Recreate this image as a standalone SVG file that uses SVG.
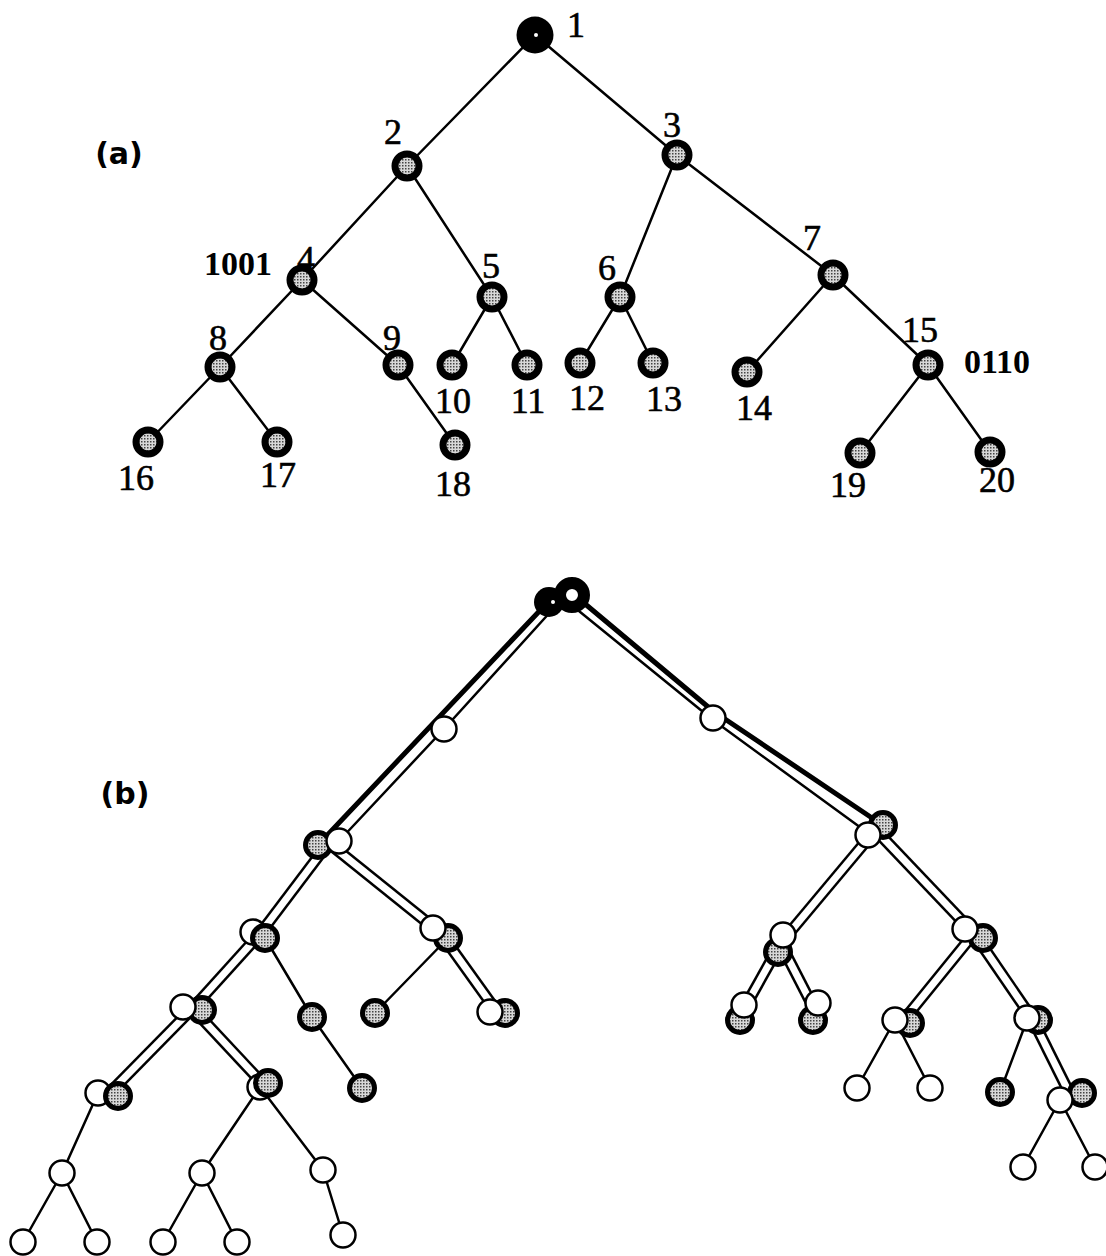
<svg xmlns="http://www.w3.org/2000/svg" width="1106" height="1256" viewBox="0 0 1106 1256">
<defs>
<pattern id="sp" width="3" height="3" patternUnits="userSpaceOnUse">
<rect width="3" height="3" fill="#d8d8d8"/>
<rect width="1.5" height="1.5" fill="#444"/>
</pattern>
<style>
.e{stroke:#000;stroke-width:2.5;fill:none;stroke-linecap:round;stroke-linejoin:round}
.thick{stroke:#000;stroke-width:5;fill:none;stroke-linecap:round;stroke-linejoin:round}
.dO{stroke:#000;stroke-width:12}
.dI{stroke:#fff;stroke-width:7}
.na{fill:url(#sp);stroke:#000;stroke-width:7}
.sb{fill:url(#sp);stroke:#000;stroke-width:5}
.wb{fill:#fff;stroke:#000;stroke-width:2.5}
.lbl{font-family:"Liberation Serif",serif;font-size:36px;text-anchor:middle;fill:#000;stroke:#000;stroke-width:0.6}
.bin{font-family:"Liberation Serif",serif;font-size:34px;font-weight:bold;text-anchor:middle;fill:#000}
.tag{font-family:"DejaVu Sans",sans-serif;font-size:30px;font-weight:bold;text-anchor:middle;fill:#000}
</style>
</defs>
<rect width="1106" height="1256" fill="#fff"/>

<!-- (a) connectors -->
<g id="connectors-a">
<line class="e" x1="535" y1="35" x2="407" y2="166"/>
<line class="e" x1="535" y1="35" x2="677" y2="155"/>
<line class="e" x1="407" y1="166" x2="302" y2="280"/>
<line class="e" x1="407" y1="166" x2="492" y2="297"/>
<line class="e" x1="677" y1="155" x2="620" y2="297"/>
<line class="e" x1="677" y1="155" x2="833" y2="275"/>
<line class="e" x1="302" y1="280" x2="220" y2="367"/>
<line class="e" x1="302" y1="280" x2="398" y2="365"/>
<line class="e" x1="492" y1="297" x2="452" y2="365"/>
<line class="e" x1="492" y1="297" x2="527" y2="365"/>
<line class="e" x1="620" y1="297" x2="580" y2="363"/>
<line class="e" x1="620" y1="297" x2="653" y2="363"/>
<line class="e" x1="833" y1="275" x2="747" y2="372"/>
<line class="e" x1="833" y1="275" x2="928" y2="365"/>
<line class="e" x1="220" y1="367" x2="148" y2="442"/>
<line class="e" x1="220" y1="367" x2="277" y2="442"/>
<line class="e" x1="398" y1="365" x2="455" y2="445"/>
<line class="e" x1="928" y1="365" x2="860" y2="453"/>
<line class="e" x1="928" y1="365" x2="990" y2="452"/>
</g>

<!-- (a) nodes -->
<g id="a-n1"><circle cx="535" cy="35" r="18.5" fill="#000"/><circle cx="536" cy="35" r="2" fill="#fff"/><text class="lbl" x="576" y="37">1</text></g>
<g id="a-n2"><circle class="na" cx="407" cy="166" r="12"/><text class="lbl" x="393" y="144">2</text></g>
<g id="a-n3"><circle class="na" cx="677" cy="155" r="12"/><text class="lbl" x="672" y="137">3</text></g>
<g id="a-n4"><circle class="na" cx="302" cy="280" r="12"/><text class="lbl" x="306" y="271">4</text><text class="bin" x="238" y="275">1001</text></g>
<g id="a-n5"><circle class="na" cx="492" cy="297" r="12"/><text class="lbl" x="491" y="278">5</text></g>
<g id="a-n6"><circle class="na" cx="620" cy="297" r="12"/><text class="lbl" x="607" y="280">6</text></g>
<g id="a-n7"><circle class="na" cx="833" cy="275" r="12"/><text class="lbl" x="812" y="250">7</text></g>
<g id="a-n8"><circle class="na" cx="220" cy="367" r="12"/><text class="lbl" x="218" y="350">8</text></g>
<g id="a-n9"><circle class="na" cx="398" cy="365" r="12"/><text class="lbl" x="392" y="350">9</text></g>
<g id="a-n10"><circle class="na" cx="452" cy="365" r="12"/><text class="lbl" x="453" y="413">10</text></g>
<g id="a-n11"><circle class="na" cx="527" cy="365" r="12"/><text class="lbl" x="528" y="413">11</text></g>
<g id="a-n12"><circle class="na" cx="580" cy="363" r="12"/><text class="lbl" x="587" y="410">12</text></g>
<g id="a-n13"><circle class="na" cx="653" cy="363" r="12"/><text class="lbl" x="664" y="411">13</text></g>
<g id="a-n14"><circle class="na" cx="747" cy="372" r="12"/><text class="lbl" x="754" y="420">14</text></g>
<g id="a-n15"><circle class="na" cx="928" cy="365" r="12"/><text class="lbl" x="920" y="342">15</text><text class="bin" x="997" y="373">0110</text></g>
<g id="a-n16"><circle class="na" cx="148" cy="442" r="12"/><text class="lbl" x="136" y="490">16</text></g>
<g id="a-n17"><circle class="na" cx="277" cy="442" r="12"/><text class="lbl" x="278" y="487">17</text></g>
<g id="a-n18"><circle class="na" cx="455" cy="445" r="12"/><text class="lbl" x="453" y="496">18</text></g>
<g id="a-n19"><circle class="na" cx="860" cy="453" r="12"/><text class="lbl" x="848" y="497">19</text></g>
<g id="a-n20"><circle class="na" cx="990" cy="452" r="12"/><text class="lbl" x="997" y="492">20</text></g>
<text class="tag" x="119" y="164">(a)</text>

<!-- (b) connectors -->
<g id="connectors-b">
<line class="thick" x1="548" y1="602" x2="318" y2="845"/>
<polyline class="thick" points="578,598 713,711 878,822"/>
<polyline class="e" points="553,609 444,729 339,841"/>
<polyline class="e" points="574,607 713,720 868,833"/>
<g class="dO">
<line x1="328.5" y1="843" x2="259" y2="935"/>
<line x1="328.5" y1="843" x2="440.5" y2="933"/>
<line x1="440.5" y1="933" x2="497.5" y2="1012.5"/>
<line x1="259" y1="935" x2="192.5" y2="1008.5"/>
<line x1="192.5" y1="1008.5" x2="108" y2="1094.5"/>
<line x1="192.5" y1="1008.5" x2="264" y2="1085"/>
<line x1="875.5" y1="830" x2="780.5" y2="943.5"/>
<line x1="875.5" y1="830" x2="974" y2="933.5"/>
<line x1="780.5" y1="943.5" x2="742" y2="1012.5"/>
<line x1="780.5" y1="943.5" x2="815.5" y2="1011.5"/>
<line x1="974" y1="933.5" x2="902.5" y2="1021.5"/>
<line x1="974" y1="933.5" x2="1032.5" y2="1019"/>
<line x1="1032.5" y1="1019" x2="1071" y2="1096.5"/>
</g>
<g class="dI">
<line x1="328.5" y1="843" x2="259" y2="935"/>
<line x1="328.5" y1="843" x2="440.5" y2="933"/>
<line x1="440.5" y1="933" x2="497.5" y2="1012.5"/>
<line x1="259" y1="935" x2="192.5" y2="1008.5"/>
<line x1="192.5" y1="1008.5" x2="108" y2="1094.5"/>
<line x1="192.5" y1="1008.5" x2="264" y2="1085"/>
<line x1="875.5" y1="830" x2="780.5" y2="943.5"/>
<line x1="875.5" y1="830" x2="974" y2="933.5"/>
<line x1="780.5" y1="943.5" x2="742" y2="1012.5"/>
<line x1="780.5" y1="943.5" x2="815.5" y2="1011.5"/>
<line x1="974" y1="933.5" x2="902.5" y2="1021.5"/>
<line x1="974" y1="933.5" x2="1032.5" y2="1019"/>
<line x1="1032.5" y1="1019" x2="1071" y2="1096.5"/>
</g>
<line class="e" x1="265" y1="938" x2="312" y2="1017"/>
<line class="e" x1="312" y1="1017" x2="362" y2="1088"/>
<line class="e" x1="448" y1="938" x2="375" y2="1013"/>
<line class="e" x1="1027" y1="1020" x2="1000" y2="1092"/>
<line class="e" x1="98" y1="1093" x2="62" y2="1173"/>
<line class="e" x1="62" y1="1173" x2="23" y2="1242"/>
<line class="e" x1="62" y1="1173" x2="97" y2="1242"/>
<line class="e" x1="260" y1="1087" x2="202" y2="1173"/>
<line class="e" x1="260" y1="1087" x2="323" y2="1170"/>
<line class="e" x1="202" y1="1173" x2="163" y2="1242"/>
<line class="e" x1="202" y1="1173" x2="237" y2="1242"/>
<line class="e" x1="323" y1="1170" x2="343" y2="1235"/>
<line class="e" x1="895" y1="1020" x2="857" y2="1088"/>
<line class="e" x1="895" y1="1020" x2="930" y2="1088"/>
<line class="e" x1="1060" y1="1100" x2="1023" y2="1167"/>
<line class="e" x1="1060" y1="1100" x2="1095" y2="1167"/>
</g>

<!-- (b) shaded nodes behind white nodes -->
<g id="b-s2"><circle class="sb" cx="318" cy="845" r="12.5"/></g>
<g id="b-s3"><circle class="sb" cx="883" cy="825" r="12.5"/></g>
<g id="b-s5"><circle class="sb" cx="448" cy="938" r="12.5"/></g>
<g id="b-s6"><circle class="sb" cx="778" cy="952" r="12.5"/></g>
<g id="b-s7"><circle class="sb" cx="983" cy="938" r="12.5"/></g>
<g id="b-s8"><circle class="sb" cx="202" cy="1010" r="12.5"/></g>
<g id="b-s11"><circle class="sb" cx="505" cy="1013" r="12.5"/></g>
<g id="b-s12"><circle class="sb" cx="740" cy="1020" r="12.5"/></g>
<g id="b-s13"><circle class="sb" cx="813" cy="1020" r="12.5"/></g>
<g id="b-s14"><circle class="sb" cx="910" cy="1023" r="12.5"/></g>
<g id="b-s15"><circle class="sb" cx="1038" cy="1020" r="12.5"/></g>
<g id="b-s20"><circle class="sb" cx="1082" cy="1093" r="12.5"/></g>

<!-- (b) white nodes -->
<g id="b-w-a"><circle class="wb" cx="444" cy="729" r="12.5"/></g>
<g id="b-w-b"><circle class="wb" cx="713" cy="718" r="12.5"/></g>
<g id="b-w-c"><circle class="wb" cx="339" cy="841" r="12.5"/></g>
<g id="b-w-d"><circle class="wb" cx="868" cy="835" r="12.5"/></g>
<g id="b-w-e"><circle class="wb" cx="253" cy="932" r="12.5"/></g>
<g id="b-w-f"><circle class="wb" cx="433" cy="928" r="12.5"/></g>
<g id="b-w-g"><circle class="wb" cx="490" cy="1012" r="12.5"/></g>
<g id="b-w-h"><circle class="wb" cx="183" cy="1007" r="12.5"/></g>
<g id="b-w-i"><circle class="wb" cx="98" cy="1093" r="12.5"/></g>
<g id="b-w-j"><circle class="wb" cx="260" cy="1087" r="12.5"/></g>
<g id="b-w-k"><circle class="wb" cx="62" cy="1173" r="12.5"/></g>
<g id="b-w-l"><circle class="wb" cx="202" cy="1173" r="12.5"/></g>
<g id="b-w-m"><circle class="wb" cx="323" cy="1170" r="12.5"/></g>
<g id="b-w-k1"><circle class="wb" cx="23" cy="1242" r="12.5"/></g>
<g id="b-w-k2"><circle class="wb" cx="97" cy="1242" r="12.5"/></g>
<g id="b-w-l1"><circle class="wb" cx="163" cy="1242" r="12.5"/></g>
<g id="b-w-l2"><circle class="wb" cx="237" cy="1242" r="12.5"/></g>
<g id="b-w-m1"><circle class="wb" cx="343" cy="1235" r="12.5"/></g>
<g id="b-w-n"><circle class="wb" cx="783" cy="935" r="12.5"/></g>
<g id="b-w-o"><circle class="wb" cx="965" cy="929" r="12.5"/></g>
<g id="b-w-p"><circle class="wb" cx="744" cy="1005" r="12.5"/></g>
<g id="b-w-q"><circle class="wb" cx="818" cy="1003" r="12.5"/></g>
<g id="b-w-r"><circle class="wb" cx="895" cy="1020" r="12.5"/></g>
<g id="b-w-s"><circle class="wb" cx="1027" cy="1018" r="12.5"/></g>
<g id="b-w-t"><circle class="wb" cx="857" cy="1088" r="12.5"/></g>
<g id="b-w-u"><circle class="wb" cx="930" cy="1088" r="12.5"/></g>
<g id="b-w-v"><circle class="wb" cx="1060" cy="1100" r="12.5"/></g>
<g id="b-w-w"><circle class="wb" cx="1023" cy="1167" r="12.5"/></g>
<g id="b-w-x"><circle class="wb" cx="1095" cy="1167" r="12.5"/></g>

<!-- (b) shaded nodes on top / standalone -->
<g id="b-s4"><circle class="sb" cx="265" cy="938" r="12.5"/></g>
<g id="b-s16"><circle class="sb" cx="118" cy="1096" r="12.5"/></g>
<g id="b-s17"><circle class="sb" cx="268" cy="1083" r="12.5"/></g>
<g id="b-s9"><circle class="sb" cx="312" cy="1017" r="12.5"/></g>
<g id="b-s10"><circle class="sb" cx="375" cy="1013" r="12.5"/></g>
<g id="b-s18"><circle class="sb" cx="362" cy="1088" r="12.5"/></g>
<g id="b-s19"><circle class="sb" cx="1000" cy="1092" r="12.5"/></g>

<!-- (b) root pair -->
<g id="b-root"><circle cx="549" cy="602" r="15" fill="#000"/><circle cx="553" cy="602" r="2" fill="#fff"/><circle cx="572" cy="595" r="12" fill="#fff" stroke="#000" stroke-width="12"/></g>
<text class="tag" x="125" y="804">(b)</text>
</svg>
